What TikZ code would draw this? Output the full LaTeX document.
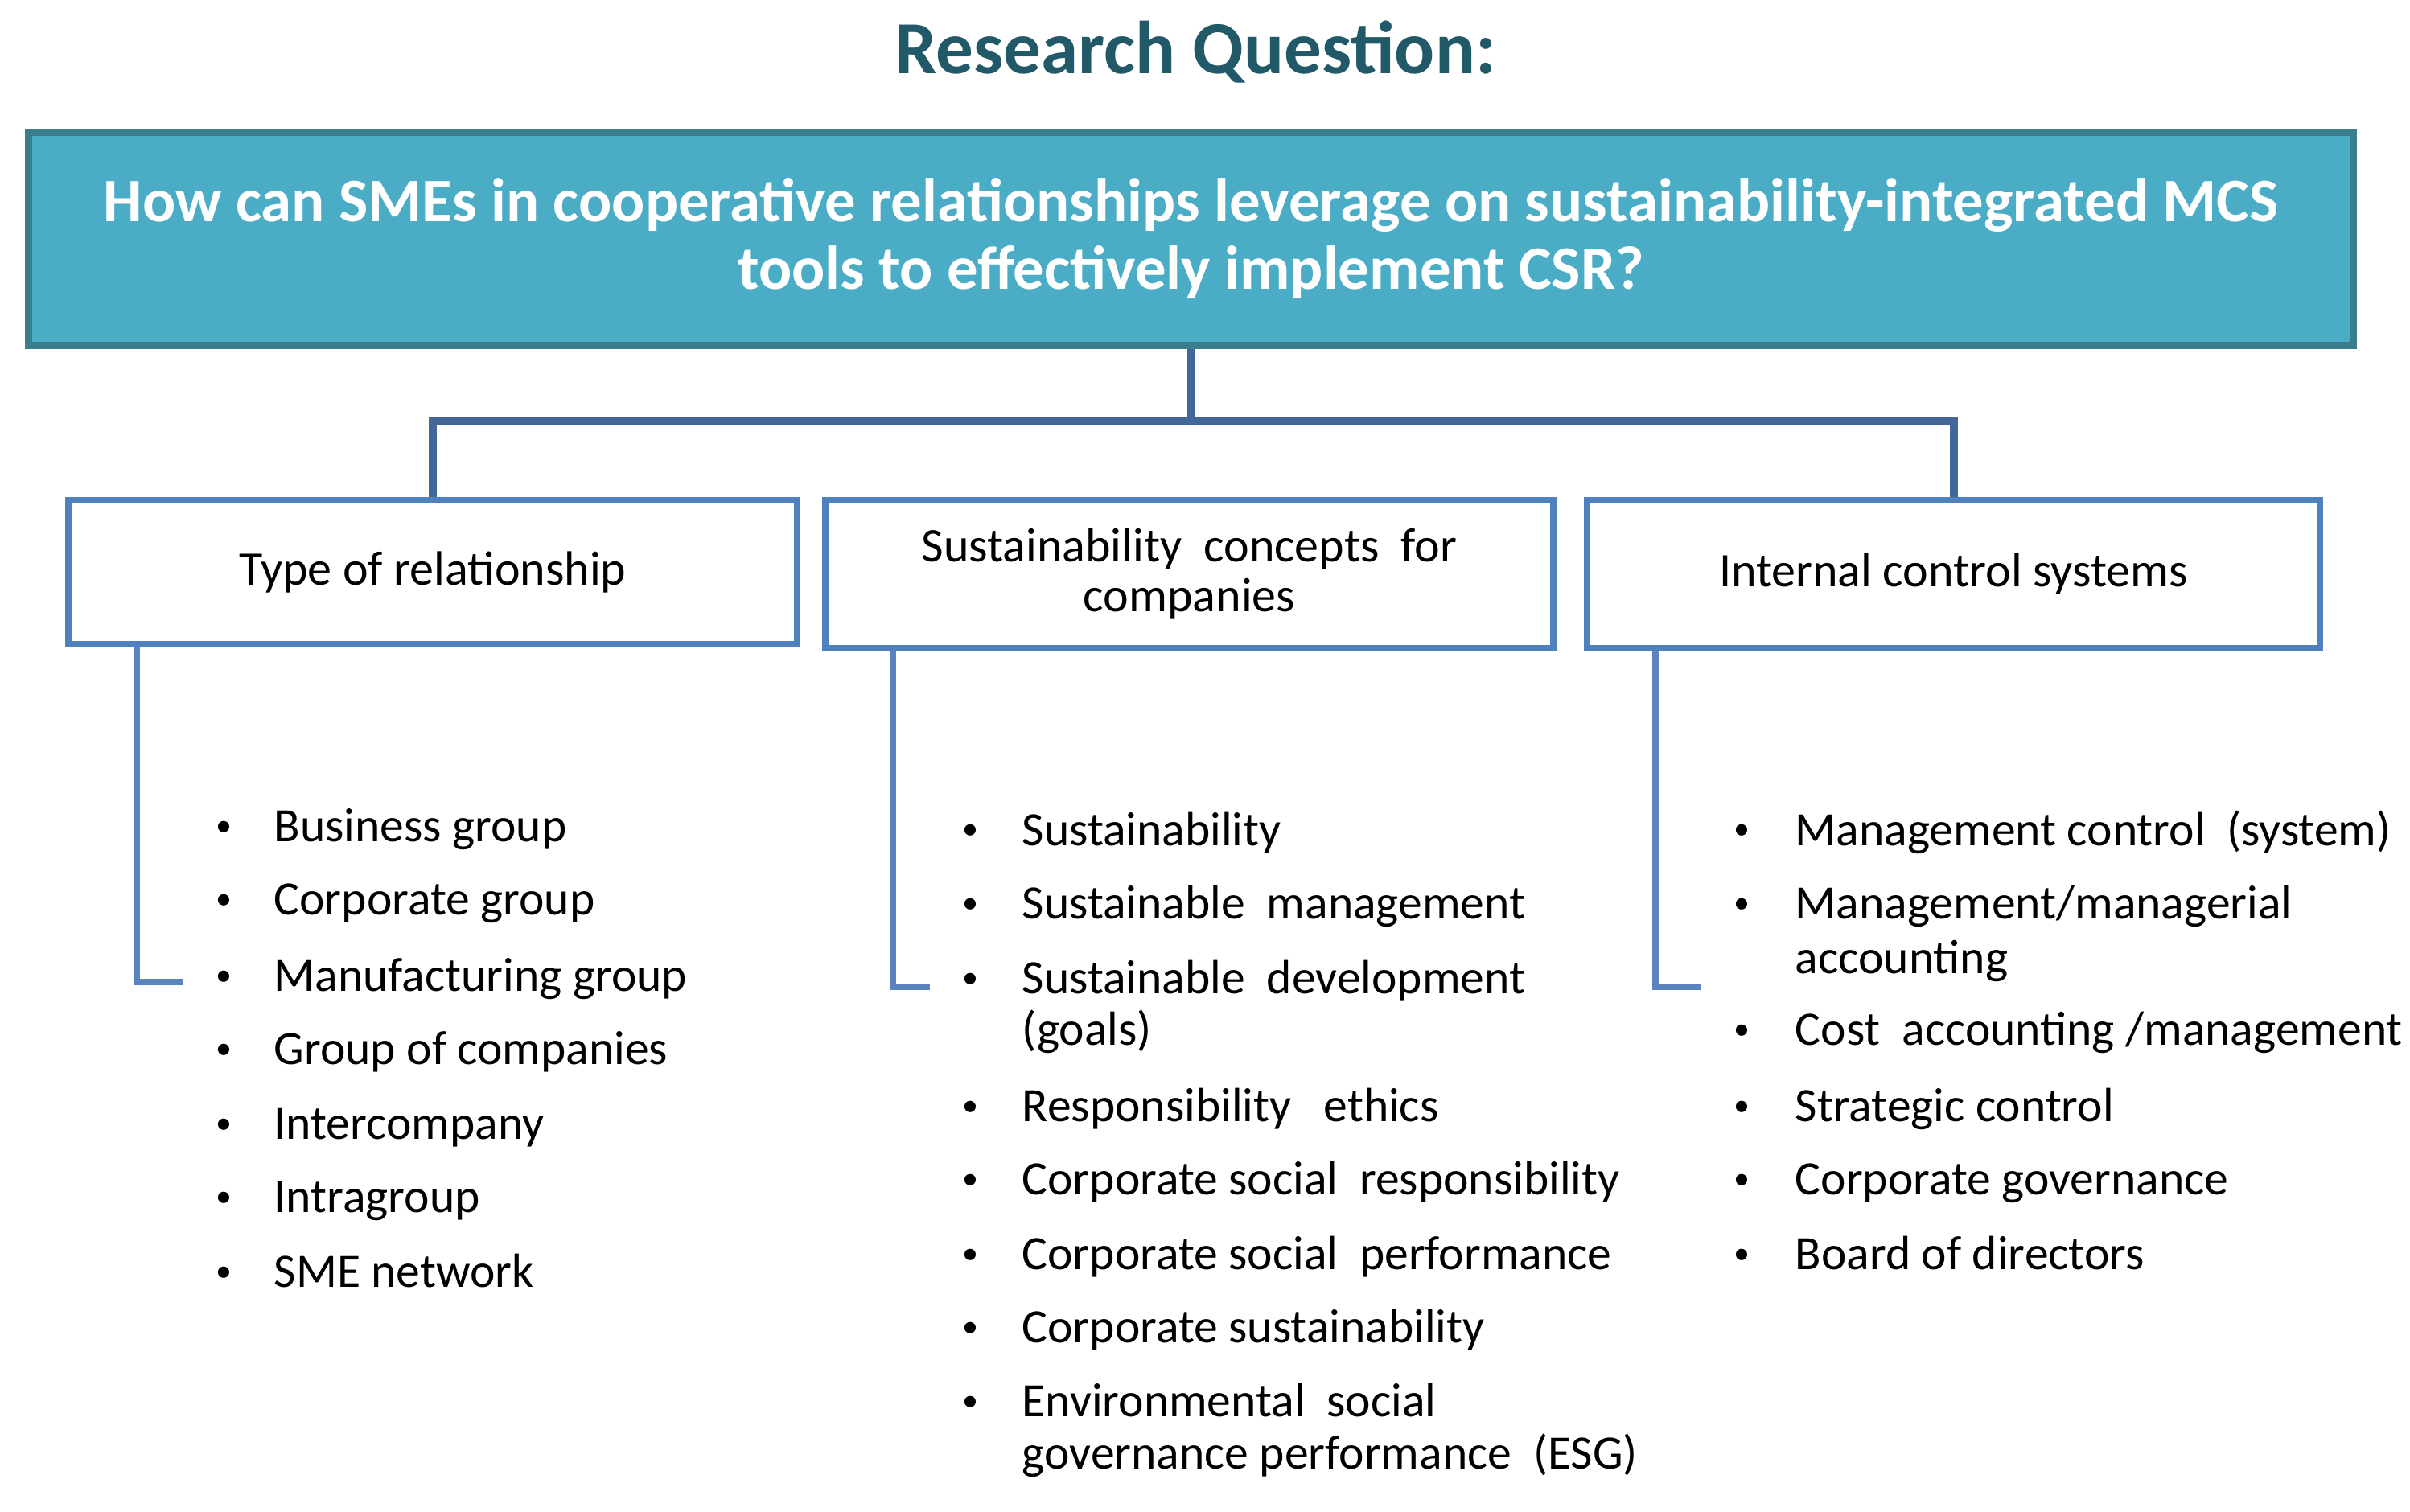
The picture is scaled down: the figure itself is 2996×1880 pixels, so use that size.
\documentclass[tikz,border=0pt]{standalone}
\usepackage{fontspec}
\setmainfont{Carlito}
\definecolor{titlecol}{RGB}{33,89,104}
\definecolor{qfill}{RGB}{75,172,198}
\definecolor{qline}{RGB}{58,126,141}
\definecolor{conncol}{RGB}{65,104,152}
\definecolor{boxline}{RGB}{79,129,189}
\definecolor{brackcol}{RGB}{91,132,190}
\newcommand{\itemfont}{\fontsize{14.9}{16}\selectfont}
\begin{document}
\begin{tikzpicture}[x=0.25pt,y=-0.25pt,
  titletext/.style={anchor=base,inner sep=0,text=titlecol,font=\fontsize{23.3}{27}\selectfont\bfseries},
  topbox/.style={draw=qline,fill=qfill,line width=2.25pt,minimum width=722.5pt,minimum height=66.25pt,
    align=center,text=white,inner sep=0,font=\fontsize{19.2}{21}\selectfont\bfseries},
  catbox/.style={draw=boxline,fill=white,line width=2pt,minimum height=46pt,align=center,inner sep=0,
    font=\fontsize{15}{15.5}\selectfont},
  conn/.style={draw=conncol,line width=2.5pt},
  brack/.style={draw=brackcol,line width=2pt},
  bul/.style={anchor=base,inner sep=0,font=\fontsize{10}{12}\selectfont},
  itm/.style={anchor=base west,inner sep=0,font=\itemfont}]
\useasboundingbox (0,0) rectangle (2996,1880);

% title
\node[titletext] (title) at (1486,92) {Research Question:};

% research question box
\node[topbox] (q) at (1480.5,297) {How can SMEs in cooperative relationships leverage on sustainability-integrated MCS\\tools to effectively implement CSR?};

% category boxes
\node[catbox,minimum width=226.5pt,minimum height=44.75pt] (b1) at (538,711.5) {Type of relationship};
\node[catbox,minimum width=226.25pt] (b2) at (1478.5,714) {Sustainability\ \ concepts\ \ for\\companies};
\node[catbox,minimum width=227.75pt] (b3) at (2428.5,714) {Internal control systems};

% connectors from the question box
\coordinate (bar) at (1478,523);
\draw[conn] (q.south) -- (q.south |- bar);
\draw[conn] (b1.north) -- (b1.north |- bar) -- (b3.north |- bar) -- (b3.north);

% brackets
\coordinate (k1) at (228,1221);
\coordinate (k2) at (1156,1227);
\coordinate (k3) at (2115,1227);
\draw[brack] (b1.south west) ++(89,0) |- (k1);
\draw[brack] (b2.south west) ++(88,0) |- (k2);
\draw[brack] (b3.south west) ++(89,0) |- (k3);

% left list
\node[bul] (lb1) at (278,1040) {•}; \node[itm] (lt1) at (340,1047) {Business group};
\node[bul] (lb2) at (278,1130) {•}; \node[itm] (lt2) at (340,1137) {Corporate group};
\node[bul] (lb3) at (278,1225) {•}; \node[itm] (lt3) at (340,1232) {Manufacturing group};
\node[bul] (lb4) at (278,1316) {•}; \node[itm] (lt4) at (340,1323) {Group of companies};
\node[bul] (lb5) at (278,1409) {•}; \node[itm] (lt5) at (340,1416) {Intercompany};
\node[bul] (lb6) at (278,1500) {•}; \node[itm] (lt6) at (340,1507) {Intragroup};
\node[bul] (lb7) at (278,1593) {•}; \node[itm] (lt7) at (340,1600) {SME network};

% middle list
\node[bul] (mb1) at (1206,1044) {•}; \node[itm] (mt1) at (1270,1051) {Sustainability};
\node[bul] (mb2) at (1206,1135) {•}; \node[itm] (mt2) at (1270,1142) {Sustainable\ \ management};
\node[bul] (mb3) at (1206,1228) {•}; \node[itm] (mt3) at (1270,1235) {Sustainable\ \ development};
\node[itm] (mt3b) at (1270,1299) {(goals)};
\node[bul] (mb4) at (1206,1387) {•}; \node[itm] (mt4) at (1270,1394) {Responsibility\ \ \ ethics};
\node[bul] (mb5) at (1206,1478) {•}; \node[itm] (mt5) at (1270,1485) {Corporate social\ \ responsibility};
\node[bul] (mb6) at (1206,1571) {•}; \node[itm] (mt6) at (1270,1578) {Corporate social\ \ performance};
\node[bul] (mb7) at (1206,1662) {•}; \node[itm] (mt7) at (1270,1669) {Corporate sustainability};
\node[bul] (mb8) at (1206,1754) {•}; \node[itm] (mt8) at (1270,1761) {Environmental\ \ social};
\node[itm] (mt8b) at (1270,1826) {governance performance\ \ (ESG)};

% right list
\node[bul] (rb1) at (2165,1044) {•}; \node[itm] (rt1) at (2231,1051) {Management control\ \ (system)};
\node[bul] (rb2) at (2165,1135) {•}; \node[itm] (rt2) at (2231,1142) {Management/managerial};
\node[itm] (rt2b) at (2231,1210) {accounting};
\node[bul] (rb3) at (2165,1292) {•}; \node[itm] (rt3) at (2231,1299) {Cost\ \ accounting /management};
\node[bul] (rb4) at (2165,1387) {•}; \node[itm] (rt4) at (2231,1394) {Strategic control};
\node[bul] (rb5) at (2165,1478) {•}; \node[itm] (rt5) at (2231,1485) {Corporate governance};
\node[bul] (rb6) at (2165,1571) {•}; \node[itm] (rt6) at (2231,1578) {Board of directors};
\end{tikzpicture}
\end{document}
